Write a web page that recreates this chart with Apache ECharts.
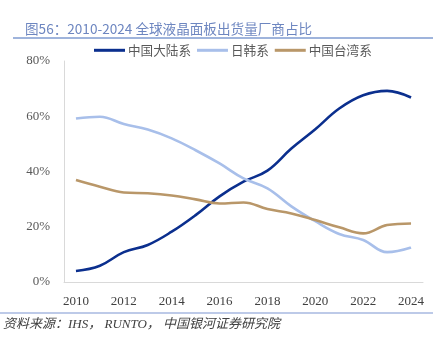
<!DOCTYPE html>
<html><head><meta charset="utf-8">
<script src="https://cdn.jsdelivr.net/npm/echarts@6/dist/echarts.min.js"></script>
<style>html,body{margin:0;padding:0;background:#fff}#c{width:444px;height:338px}</style>
</head><body><div id="c"></div>
<script>
const years = ['2010','2011','2012','2013','2014','2015','2016','2017','2018','2019','2020','2021','2022','2023','2024'];
const mainland = [4.0, 5.9, 10.8, 13.4, 18.2, 24.2, 31.0, 36.3, 40.3, 48.3, 55.3, 62.8, 67.6, 69.2, 66.8];
const japanKorea = [59.2, 59.8, 57.2, 55.2, 52.0, 47.7, 42.9, 37.5, 33.9, 27.4, 22.0, 17.4, 15.2, 10.8, 12.5];
const taiwan = [36.9, 34.5, 32.4, 32.1, 31.3, 29.9, 28.4, 28.8, 26.4, 24.8, 22.4, 19.8, 17.6, 20.6, 21.2];
const seriesNames = ['中国大陆系','日韩系','中国台湾系'];
const colors = ['#0b2f8e','#a8bfea','#b99769'];
const chart = echarts.init(document.getElementById('c'));
const serif = '"Liberation Serif","DejaVu Serif",serif';
const cjk = '"Noto Sans CJK SC","Noto Sans",sans-serif';
const mk = (name, data, color) => ({
  name, type:'line', data, smooth:0.4, symbol:'none',
  lineStyle:{color, width:2.6}, itemStyle:{color}
});
chart.setOption({
  animation:false,
  title:{text:'图56：2010-2024 全球液晶面板出货量厂商占比', left:20, top:17,
    textStyle:{fontSize:13.6, fontWeight:'normal', color:'#6d86c0', fontFamily:cjk}},
  legend:{data:seriesNames, left:94, top:44, padding:0, itemWidth:31, itemHeight:3, itemGap:6,
    icon:'rect', textStyle:{fontSize:12.6, color:'#595959', fontFamily:cjk, padding:[0,0,0,-2]}},
  grid:{left:64, right:21, top:61, bottom:56},
  xAxis:{type:'category', data:years, boundaryGap:true,
    axisLine:{lineStyle:{color:'#d9d9d9'}}, axisTick:{show:false},
    axisLabel:{interval:1, color:'#404040', fontSize:13, fontFamily:serif, margin:13}},
  yAxis:{type:'value', min:0, max:80, interval:20,
    axisLine:{show:true, lineStyle:{color:'#d9d9d9'}}, axisTick:{show:false}, splitLine:{show:false},
    axisLabel:{formatter:'{value}%', color:'#595959', fontSize:13, fontFamily:serif, margin:14}},
  series:[mk(seriesNames[0], mainland, colors[0]), mk(seriesNames[1], japanKorea, colors[1]), mk(seriesNames[2], taiwan, colors[2])],
  graphic:[
    {type:'line', shape:{x1:13,y1:38,x2:433,y2:38}, style:{stroke:'#7f9bd0', lineWidth:1.5}},
    {type:'line', shape:{x1:0,y1:313,x2:433,y2:313}, style:{stroke:'#a7b9e0', lineWidth:1.5}},
    {type:'text', left:3, top:318, style:{text:'资料来源：IHS， RUNTO， 中国银河证券研究院', fill:'#404040',
      font:'italic 13px "Liberation Serif","Noto Sans CJK SC",serif'}}
  ]
});
</script></body></html>
